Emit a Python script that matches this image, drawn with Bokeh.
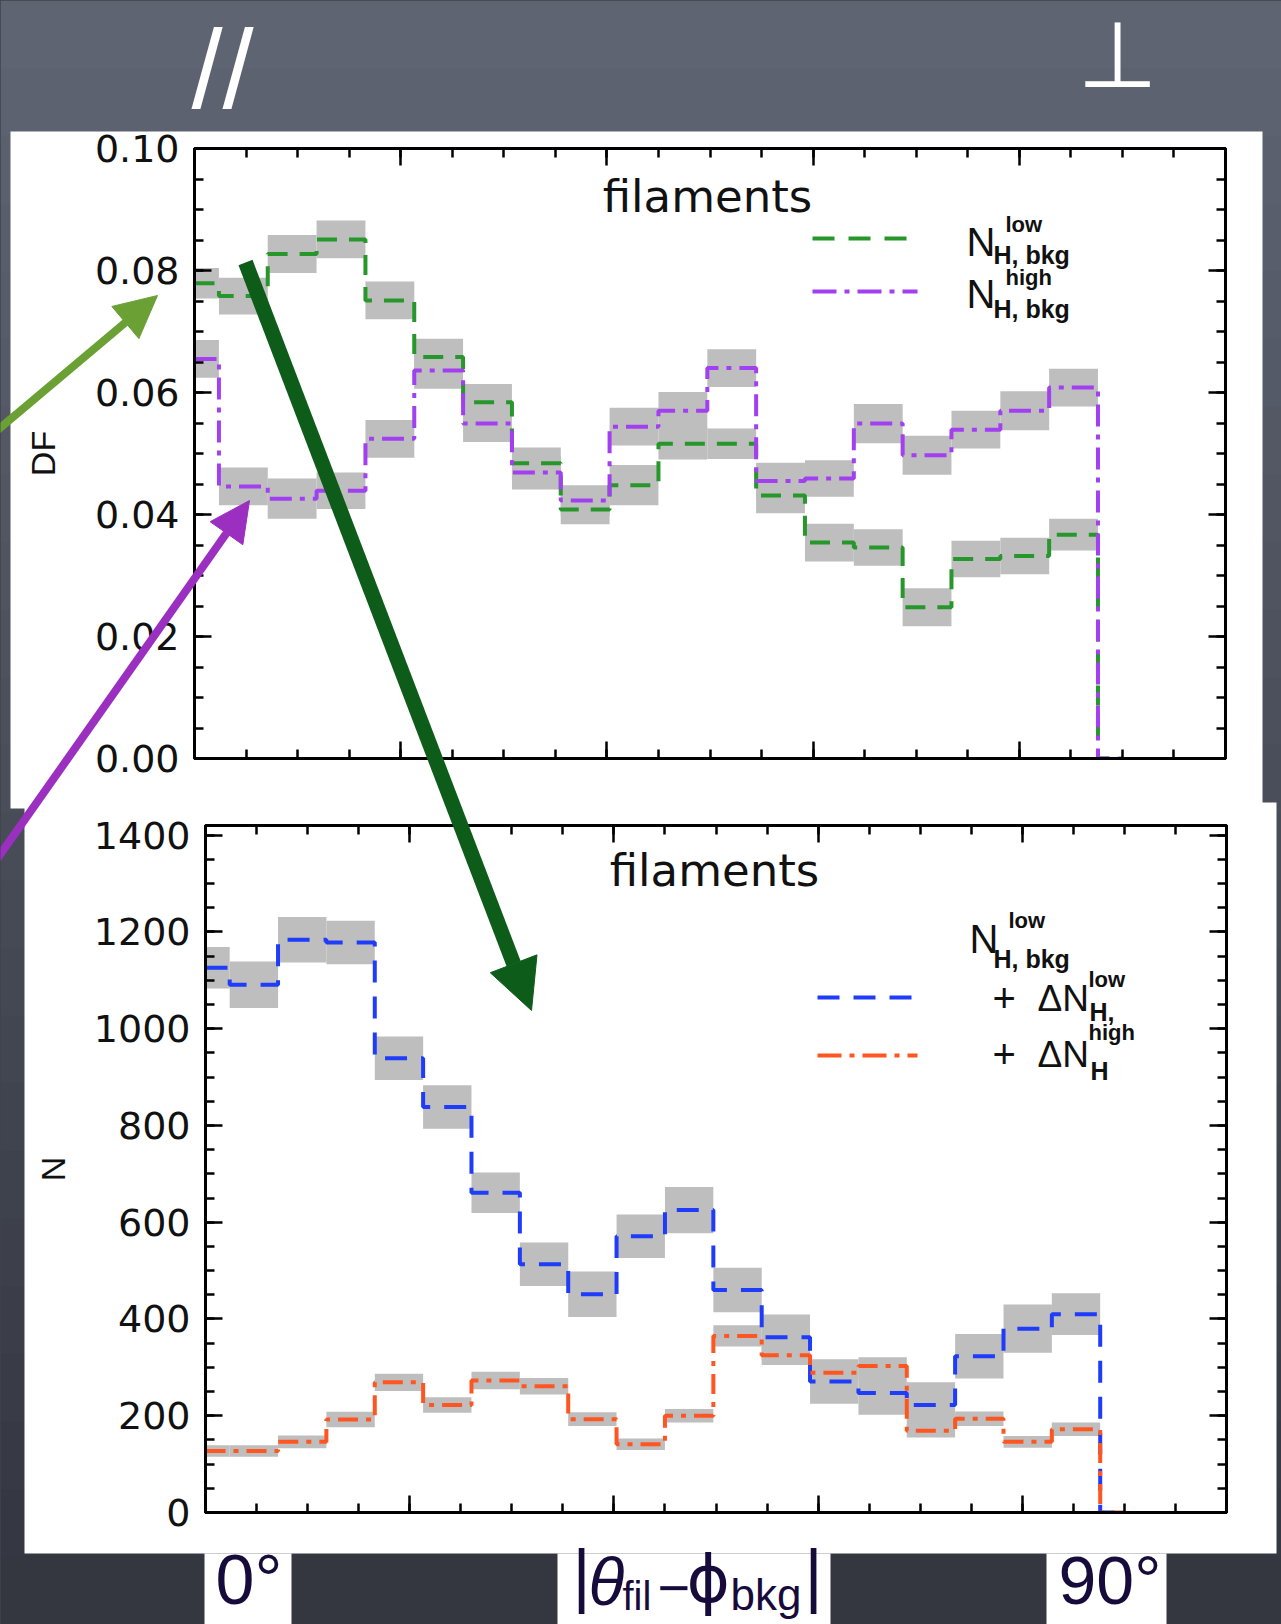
from jinja2 import Template
from bokeh.plotting import figure
from bokeh.models import (Range1d, LinearAxis, FixedTicker, PrintfTickFormatter,
                          CustomJSTickFormatter, Label, Arrow, NormalHead)
from bokeh.embed import file_html
from bokeh.resources import INLINE

# ------------------------------------------------------------------ data
# bin centres of |theta_fil - phi_bkg| in degrees (19 bins over 0..90, plus end point)
bin_centers = [0.00, 4.74, 9.47, 14.21, 18.95, 23.68, 28.42, 33.16, 37.89, 42.63,
               47.37, 52.11, 56.84, 61.58, 66.32, 71.05, 75.79, 80.53, 85.26, 90.00]
bin_width = 4.737

# top panel: distribution function
df_low = [0.0779, 0.0758, 0.0827, 0.0851, 0.0751, 0.0658, 0.0584, 0.0484, 0.0408, 0.0448,
          0.0516, 0.0516, 0.0431, 0.0354, 0.0346, 0.0248, 0.0327, 0.0332, 0.0367, 0.0]
df_low_err = [0.0025, 0.0030, 0.0031, 0.0031, 0.0031, 0.0030, 0.0030, 0.0026, 0.0024, 0.0033,
              0.0026, 0.0025, 0.0029, 0.0031, 0.0030, 0.0031, 0.0030, 0.0030, 0.0026, 0.0]
df_high = [0.0655, 0.0446, 0.0426, 0.0439, 0.0524, 0.0636, 0.0549, 0.0469, 0.0423, 0.0544,
           0.0570, 0.0640, 0.0455, 0.0459, 0.0549, 0.0497, 0.0539, 0.0570, 0.0608, 0.0]
df_high_err = [0.0031, 0.0031, 0.0033, 0.0030, 0.0031, 0.0030, 0.0030, 0.0028, 0.0025, 0.0031,
               0.0031, 0.0031, 0.0030, 0.0030, 0.0032, 0.0032, 0.0031, 0.0032, 0.0031, 0.0]

# bottom panel: counts
n_low = [1126, 1091, 1184, 1178, 939, 838, 661, 513, 451, 571,
         625, 460, 362, 271, 247, 222, 323, 380, 410, 0]
n_low_err = [43, 48, 47, 45, 45, 45, 42, 45, 47, 45, 48, 46, 47, 46, 45, 47, 46, 50, 43, 0]
n_high = [127, 127, 146, 192, 269, 222, 273, 261, 193, 141,
          200, 365, 325, 289, 303, 169, 194, 146, 172, 0]
n_high_err = [12, 12, 13, 16, 18, 16, 18, 17, 14, 12, 14, 22, 20, 18, 18, 14, 15, 12, 14, 0]

x_major = [0, 20, 40, 60, 80, 100]
x_minor = [5 * i for i in range(21)]
df_ticks = [0.00, 0.02, 0.04, 0.06, 0.08, 0.10]
df_minor = [0.005 * i for i in range(21)]
n_ticks = [0, 200, 400, 600, 800, 1000, 1200, 1400]
n_minor = [50 * i for i in range(29)]

# ------------------------------------------------------------------ style / layout
W, H = 1281, 1624
H_TOP = 805
H_BOT = H - H_TOP
GRAY = "#bebebe"
GREEN = "#27962b"
PURPLE = "#a23ff0"
BLUE = "#1e3cfa"
ORANGE = "#ff5520"
NAVY = "#170b3b"
INK = "#111111"
TICK_FONT = "DejaVu Sans"
BASE_K = 0.37   # measured offset between requested and drawn baseline (fraction of em)

TOP_FRAME = dict(left=194, right=1225, top=148, bottom=758)
BOT_FRAME = dict(left=205, right=1226, top=825, bottom=1512)


def page_fig(name):
    """A transparent full-page figure whose data units are page pixels."""
    return figure(name=name, width=W, height=H, x_range=Range1d(0, W), y_range=Range1d(H, 0),
                  x_axis_type=None, y_axis_type=None, min_border=0,
                  output_backend="svg", toolbar_location=None,
                  background_fill_alpha=0, border_fill_alpha=0, outline_line_color=None)


def chart_fig(name, height, y0, frame, yr):
    p = figure(name=name, width=W, height=height, x_range=Range1d(0, 100), y_range=yr,
               x_axis_type=None, y_axis_type=None,
               output_backend="svg", toolbar_location=None,
               min_border_left=frame["left"], min_border_right=W - frame["right"],
               min_border_top=frame["top"] - y0,
               min_border_bottom=y0 + height - frame["bottom"],
               background_fill_color="white", border_fill_alpha=0,
               outline_line_color="black", outline_line_width=3)
    p.extra_x_ranges = {"px": Range1d(frame["left"], frame["right"])}
    p.extra_y_ranges = {"py": Range1d(frame["bottom"], frame["top"])}
    return p


def add_axes(p, yticks, yminor, yfmt, ylabel, standoff):
    blank = CustomJSTickFormatter(code="return ''")
    specs = [("below", x_major, x_minor, blank, None),
             ("above", x_major, x_minor, blank, None),
             ("left", yticks, yminor, yfmt, ylabel),
             ("right", yticks, yminor, blank, None)]
    for loc, maj, mnr, fmt, lab in specs:
        ax = LinearAxis(ticker=FixedTicker(ticks=maj, minor_ticks=mnr), formatter=fmt)
        ax.axis_line_color = "black"
        ax.axis_line_width = 3
        ax.major_tick_line_color = "black"
        ax.major_tick_line_width = 2.5
        ax.minor_tick_line_color = "black"
        ax.minor_tick_line_width = 2.5
        ax.major_tick_in = 17
        ax.major_tick_out = 0
        ax.minor_tick_in = 9
        ax.minor_tick_out = 0
        if lab is None:
            ax.major_label_text_font_size = "6px"
            ax.major_label_standoff = 0
        else:
            ax.major_label_text_font = TICK_FONT
            ax.major_label_text_font_size = "38px"
            ax.major_label_text_color = INK
            ax.major_label_standoff = 15
            ax.axis_label = lab
            ax.axis_label_text_font = "Liberation Sans"
            ax.axis_label_text_font_size = "34px"
            ax.axis_label_text_font_style = "normal"
            ax.axis_label_text_color = INK
            ax.axis_label_standoff = standoff
        p.add_layout(ax, loc)


def text(p, x, base, s, size, font="Liberation Sans", color=INK, style="normal",
         align="left", page=True):
    """Place text so that its baseline lands on page row `base`."""
    kw = dict(x_range_name="px", y_range_name="py") if page else {}
    p.add_layout(Label(x=x, y=base - BASE_K * size, text=s, text_font=font,
                       text_font_size="%dpx" % size, text_color=color,
                       text_font_style=style, text_align=align,
                       text_baseline="alphabetic", **kw))


def histo(p, vals, errs):
    left = [c - bin_width / 2 for c in bin_centers]
    right = [c + bin_width / 2 for c in bin_centers]
    lo = [v - e for v, e in zip(vals, errs)]
    hi = [v + e for v, e in zip(vals, errs)]
    p.quad(left=left, right=right, bottom=lo, top=hi, fill_color=GRAY, line_color=None)


def steps(p, vals, color, dash):
    p.step(x=bin_centers, y=vals, mode="center", line_color=color,
           line_width=4, line_dash=dash)


# ------------------------------------------------------------------ slide underlay
under = page_fig("under")
n_band = 24
band_h = H / n_band
c0, c1 = (94, 100, 114), (52, 55, 64)
for i in range(n_band):
    t = i / (n_band - 1)
    col = "#%02x%02x%02x" % tuple(int(a + (b - a) * t) for a, b in zip(c0, c1))
    under.quad(left=[0], right=[W], top=[i * band_h], bottom=[(i + 1) * band_h + 1],
               fill_color=col, line_color=None)
under.quad(left=[10, 24, 204, 557, 1046], right=[1262, 1276, 291, 830, 1166],
           top=[131, 802, 1553, 1553, 1553], bottom=[808, 1553, H, H, H],
           fill_color="white", line_color=None)
text(under, 191, 110, "//", 112, color="white", page=False)
text(under, 1117, 89, "\u22a5", 92, font="DejaVu Sans", color="white",
     align="center", page=False)
text(under, 215, 1605, "0\u00b0", 70, color=NAVY, page=False)
text(under, 1058, 1605, "90\u00b0", 68, color=NAVY, page=False)
text(under, 572, 1600, "|", 70, color=NAVY, page=False)
text(under, 588, 1606, "\u03b8", 66, color=NAVY, style="italic", page=False)
text(under, 622, 1610, "fil", 40, color=NAVY, page=False)
text(under, 657, 1608, "\u2212", 56, color=NAVY, page=False)
text(under, 686, 1603, "\u03d5", 66, font="DejaVu Sans", color=NAVY, page=False)
text(under, 730, 1610, "bkg", 44, color=NAVY, page=False)
text(under, 804, 1600, "|", 70, color=NAVY, page=False)

# ------------------------------------------------------------------ top panel
top = chart_fig("top", H_TOP, 0, TOP_FRAME, Range1d(0, 0.10))
add_axes(top, df_ticks, df_minor, PrintfTickFormatter(format="%.2f"), "DF", 30)
histo(top, df_low, df_low_err)
histo(top, df_high, df_high_err)
steps(top, df_low, GREEN, "20 12")
steps(top, df_high, PURPLE, "22 8 5 8")

top.line(x=[812, 906], y=[238, 238], line_color=GREEN, line_width=4, line_dash="22 14",
         x_range_name="px", y_range_name="py")
top.line(x=[812, 917], y=[291, 291], line_color=PURPLE, line_width=4, line_dash="24 8 5 8",
         x_range_name="px", y_range_name="py")
text(top, 707, 213, "filaments", 45, font="DejaVu Sans", align="center")
text(top, 966, 256, "N", 40)
text(top, 1005, 232, "low", 22, style="bold")
text(top, 993, 264, "H, bkg", 25, style="bold")
text(top, 966, 308, "N", 40)
text(top, 1005, 285, "high", 22, style="bold")
text(top, 993, 318, "H, bkg", 25, style="bold")

# ------------------------------------------------------------------ bottom panel
bot = chart_fig("bot", H_BOT, H_TOP, BOT_FRAME, Range1d(0, 1420))
add_axes(bot, n_ticks, n_minor, PrintfTickFormatter(format="%d"), "N", 19)
histo(bot, n_low, n_low_err)
histo(bot, n_high, n_high_err)
steps(bot, n_low, BLUE, "22 14")
steps(bot, n_high, ORANGE, "20 8 5 8")

bot.line(x=[817, 911], y=[997, 997], line_color=BLUE, line_width=4, line_dash="22 14",
         x_range_name="px", y_range_name="py")
bot.line(x=[817, 917], y=[1055, 1055], line_color=ORANGE, line_width=4, line_dash="24 8 5 8",
         x_range_name="px", y_range_name="py")
text(bot, 714, 887, "filaments", 45, font="DejaVu Sans", align="center")
text(bot, 969, 953, "N", 40)
text(bot, 1008, 928, "low", 22, style="bold")
text(bot, 993, 968, "H, bkg", 25, style="bold")
text(bot, 992, 1012, "+", 40)
text(bot, 1037, 1012, "\u0394N", 37)
text(bot, 1088, 987, "low", 22, style="bold")
text(bot, 1089, 1021, "H,", 25, style="bold")
text(bot, 992, 1068, "+", 40)
text(bot, 1037, 1068, "\u0394N", 37)
text(bot, 1088, 1040, "high", 22, style="bold")
text(bot, 1090, 1080, "H", 25, style="bold")

# ------------------------------------------------------------------ arrows on top
over = page_fig("over")
for (x0, y0, x1, y1, col, lw, hs) in [(-20, 444, 157, 295, "#6aa034", 8, 42),
                                       (-20, 882, 249, 500, "#9a2fc0", 8, 40),
                                       (245, 262, 531, 1010, "#0e5c1a", 15, 50)]:
    over.add_layout(Arrow(x_start=x0, y_start=y0, x_end=x1, y_end=y1,
                          end=NormalHead(size=hs, fill_color=col, line_color=col, line_width=1),
                          line_color=col, line_width=lw))

PAGE = Template("""<!DOCTYPE html>
<html lang="en">
<head>
<meta charset="utf-8">
<title>{{ title }}</title>
<style>html, body { margin: 0; padding: 0; background: #3f434d; }</style>
{{ bokeh_css if bokeh_css }}
{{ bokeh_js if bokeh_js }}
</head>
<body>
<div style="position: relative; width: 1281px; height: 1624px; overflow: hidden;">
{% for doc in docs %}{% for root in doc.roots %}
<div style="position: absolute; left: 0px; top: {{ offsets[root.name] }}px;"><div id="{{ root.elementid }}" data-root-id="{{ root.id }}" style="display: contents;"></div></div>
{% endfor %}{% endfor %}
</div>
{{ plot_script }}
</body>
</html>""")

offsets = {"under": 0, "top": 0, "bot": H_TOP, "over": 0}
html = file_html([under, top, bot, over], INLINE, title="filaments",
                 template=PAGE, template_variables={"offsets": offsets})
open("out.html", "w").write(html)
